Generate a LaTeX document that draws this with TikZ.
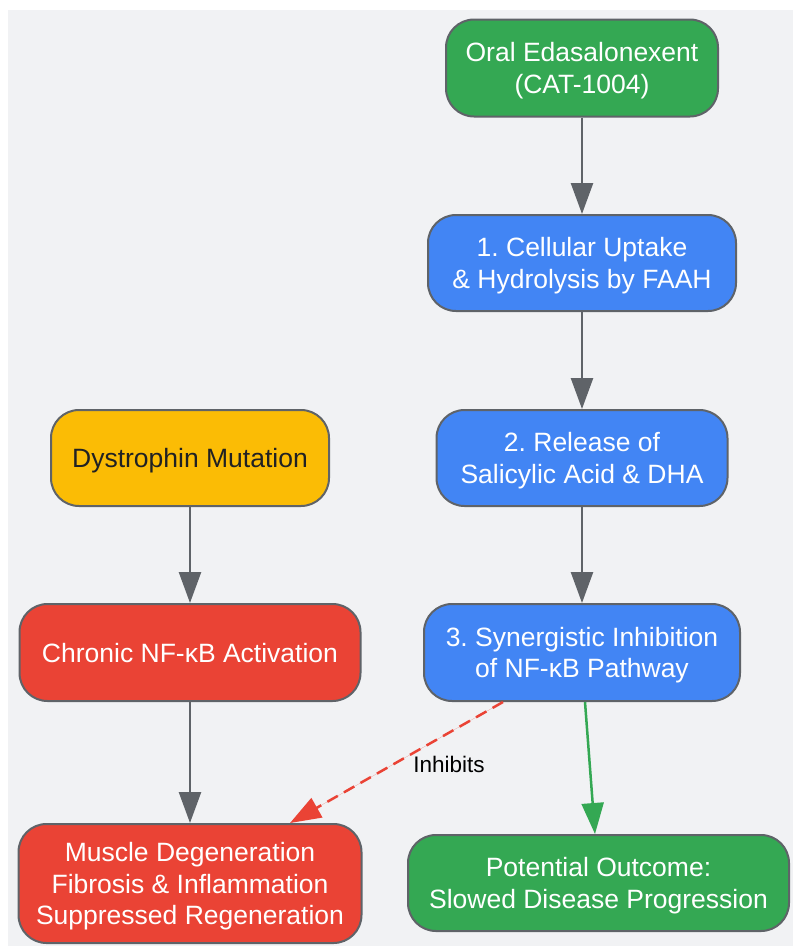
\documentclass[tikz,border=0pt]{standalone}
\usepackage{fontspec}
\setmainfont{Liberation Sans}
\usetikzlibrary{arrows.meta,calc}
\definecolor{bgcol}{HTML}{F1F2F4}
\definecolor{edgecol}{HTML}{5F6368}
\definecolor{gGreen}{HTML}{34A853}
\definecolor{gBlue}{HTML}{4285F4}
\definecolor{gYellow}{HTML}{FBBC05}
\definecolor{gRed}{HTML}{EA4335}
\definecolor{darktext}{HTML}{202124}
\frenchspacing
\begin{document}
\begin{tikzpicture}[x=1pt,y=-1pt]
\tikzstyle{box}=[draw=edgecol, line width=2pt, rounded corners=28pt, align=center,
  text=white, inner sep=0pt, minimum height=96pt, text depth=0pt,
  font=\fontsize{26.5}{31.5}\selectfont]
\tikzstyle{flow}=[draw=edgecol, line width=2.5pt, -{Triangle[length=31pt,width=22pt]}]
\useasboundingbox (0,0) rectangle (793,946);
\fill [bgcol] (8,10) rectangle (793,946);
% right column
\node (oral) at (582,68) [box, fill=gGreen, minimum width=272pt, minimum height=97pt] {Oral Edasalonexent\\(CAT-1004)};
\node (uptake) at (582,263) [box, fill=gBlue, minimum width=308pt] {1. Cellular Uptake\\\& Hydrolysis by FAAH};
\node (release) at (582,458) [box, fill=gBlue, minimum width=291pt] {2. Release of\\Salicylic Acid \& DHA};
\node (inhib) at (582,652.5) [box, fill=gBlue, minimum width=316pt, minimum height=97pt] {3. Synergistic Inhibition\\of NF-κB Pathway};
\node (outcome) at (598.5,883) [box, fill=gGreen, minimum width=381pt] {Potential Outcome:\\Slowed Disease Progression};
% left column
\node (dys) at (190,458) [box, fill=gYellow, text=darktext, minimum width=278pt] {Dystrophin Mutation};
\node (chronic) at (190,652.5) [box, fill=gRed, minimum width=341pt, minimum height=97pt] {Chronic NF-κB Activation};
\node (muscle) at (190,883.5) [box, fill=gRed, minimum width=343pt, minimum height=119pt] {Muscle Degeneration\\Fibrosis \& Inflammation\\Suppressed Regeneration};
% connectors
\draw [flow] (oral) -- (uptake);
\draw [flow] (uptake) -- (release);
\draw [flow] (release) -- (inhib);
\draw [flow] (dys) -- (chronic);
\draw [flow] (chronic) -- (muscle);
\draw [flow, draw=gGreen, fill=gGreen] ($(inhib.south)+(3,0)$) -- ($(outcome.north)+(-3.5,0)$);
\draw [flow, draw=gRed, fill=gRed, dash pattern=on 12pt off 7pt]
  ($(inhib.south)+(-79,0)$) -- ($(muscle.north)+(100,0)$);
\node (lbl) at (449,764) [font=\fontsize{22.5}{27}\selectfont, text=black] {Inhibits};
\end{tikzpicture}
\end{document}
